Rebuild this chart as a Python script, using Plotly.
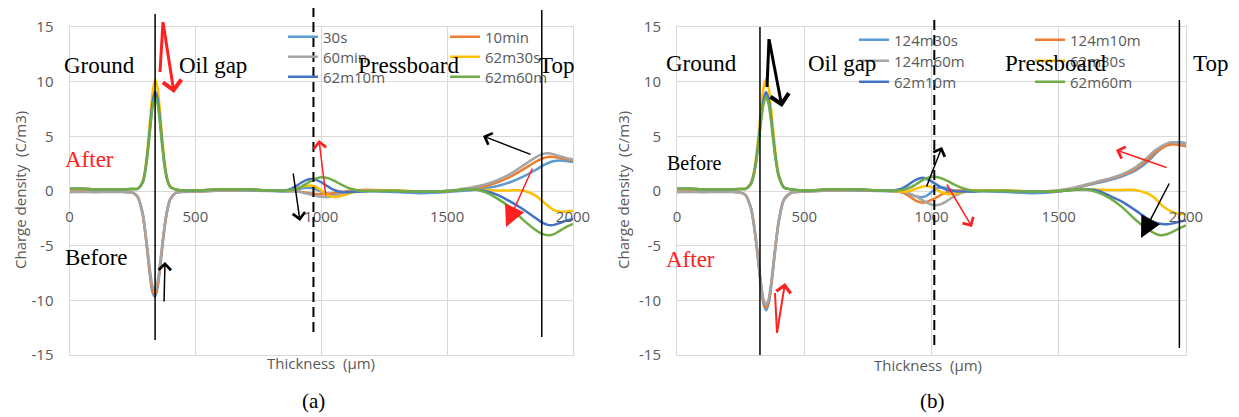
import plotly.graph_objects as go

# The page body has an 8px margin, so the figure is drawn 8px in from the window corner.
OFF = 8
WIN_W, WIN_H = 1239, 417
W, H = WIN_W - OFF, WIN_H - OFF

# ---------------- data ----------------
X = [0, 50, 100, 150, 200, 250, 270, 290, 300, 310, 320, 330, 340, 350, 360, 370, 380, 390, 400, 420,
     450, 500, 600, 700, 800, 850, 880, 900, 920, 940, 960, 980, 1000, 1020, 1040, 1060, 1080, 1100,
     1130, 1160, 1200, 1300, 1400, 1500, 1550, 1600, 1650, 1700, 1750, 1800, 1850, 1875, 1900, 1925,
     1950, 1975, 2000]

LEFT_NAMES = ["30s", "10min", "60min", "62m30s", "62m10m", "62m60m"]
RIGHT_NAMES = ["124m30s", "124m10m", "124m60m", "62m30s", "62m10m", "62m60m"]
COLORS = ["#5B9BD5", "#ED7D31", "#A5A5A5", "#FFC000", "#4472C4", "#70AD47"]

TICKS_X = [0, 500, 1000, 1500, 2000]
TICKS_Y = [-15, -10, -5, 0, 5, 10, 15]

# (a) panel
A_30s = [-0.1, -0.05, -0.1, -0.05, -0.05, -0.15, -0.5, -2.05, -3.65, -5.7, -7.8, -9.3, -9.65, -8.8, -7.0, -4.85, -2.95, -1.6, -0.78, -0.2,
         -0.05, -0.05, 0.05, 0.05, 0.0, -0.05, 0.0, 0.1, 0.22, 0.3, 0.28, 0.15, -0.05, -0.2, -0.28, -0.25, -0.18, -0.1,
         -0.05, -0.05, 0.0, -0.1, -0.2, -0.1, 0.0, 0.1, 0.25, 0.45, 0.8, 1.3, 1.9, 2.25, 2.55, 2.75,
         2.8, 2.75, 2.65]
A_10min = [-0.05, -0.05, -0.05, -0.05, -0.05, -0.15, -0.5, -2.0, -3.6, -5.6, -7.6, -9.1, -9.45, -8.6, -6.85, -4.75, -2.9, -1.57, -0.77, -0.2,
           -0.05, -0.05, 0.05, 0.1, 0.05, 0.0, 0.0, -0.02, -0.08, -0.15, -0.22, -0.28, -0.3, -0.28, -0.22, -0.14, -0.07, -0.02,
           0.05, 0.1, 0.1, 0.05, -0.05, 0.0, 0.1, 0.25, 0.45, 0.8, 1.3, 1.95, 2.65, 2.95, 3.12, 3.1,
           3.0, 2.9, 2.8]
A_60min = [-0.1, -0.1, -0.1, -0.1, -0.1, -0.15, -0.48, -1.95, -3.45, -5.35, -7.3, -8.7, -9.05, -8.25, -6.55, -4.55, -2.8, -1.5, -0.74, -0.2,
           -0.1, -0.05, 0.05, 0.1, 0.05, 0.0, -0.02, -0.05, -0.12, -0.22, -0.33, -0.45, -0.52, -0.55, -0.5, -0.38, -0.25, -0.13,
           -0.03, 0.02, 0.05, 0.0, -0.05, 0.0, 0.15, 0.35, 0.6, 1.0, 1.55, 2.3, 3.05, 3.35, 3.45, 3.35,
           3.15, 3.0, 2.9]
A_62m30s = [0.2, 0.2, 0.15, 0.15, 0.15, 0.18, 0.2, 0.85, 1.9, 3.9, 6.5, 9.0, 10.2, 9.4, 7.1, 4.4, 2.25, 1.0, 0.42, 0.15,
            0.05, 0.05, 0.15, 0.15, 0.05, 0.05, 0.1, 0.2, 0.35, 0.47, 0.5, 0.35, 0.05, -0.3, -0.5, -0.55, -0.45, -0.3,
            -0.12, -0.02, 0.05, 0.05, -0.05, 0.0, 0.1, 0.15, 0.1, 0.05, 0.05, 0.05, -0.4, -0.85, -1.35, -1.75,
            -1.9, -1.88, -1.8]
A_62m10m = [0.2, 0.2, 0.15, 0.15, 0.15, 0.18, 0.2, 0.76, 1.73, 3.5, 5.85, 8.1, 9.1, 8.4, 6.35, 3.95, 2.0, 0.9, 0.39, 0.15,
            0.05, 0.05, 0.15, 0.15, 0.05, 0.05, 0.2, 0.45, 0.75, 1.0, 1.1, 1.02, 0.8, 0.5, 0.22, 0.02, -0.1, -0.12,
            -0.08, -0.05, 0.0, 0.0, -0.05, 0.0, 0.1, 0.15, 0.0, -0.35, -0.95, -1.65, -2.45, -2.85, -3.1, -3.1,
            -2.9, -2.7, -2.55]
A_62m60m = [0.2, 0.2, 0.15, 0.15, 0.15, 0.18, 0.2, 0.73, 1.65, 3.3, 5.5, 7.65, 8.65, 7.95, 6.0, 3.7, 1.9, 0.85, 0.37, 0.15,
            0.05, 0.05, 0.15, 0.15, 0.05, 0.05, 0.1, 0.2, 0.38, 0.65, 0.93, 1.15, 1.25, 1.22, 1.07, 0.83, 0.58, 0.36,
            0.13, 0.0, 0.0, 0.0, -0.05, 0.0, 0.1, 0.15, -0.1, -0.7, -1.5, -2.6, -3.55, -3.9, -4.05, -3.95,
            -3.6, -3.25, -3.0]

# (b) panel
B_124m30s = [-0.1, -0.05, -0.1, -0.05, -0.05, -0.15, -0.4, -1.55, -2.8, -4.55, -6.65, -8.75, -10.3, -10.9, -10.3, -8.75, -6.65, -4.55, -2.8, -0.8,
             -0.15, -0.05, 0.05, 0.05, 0.0, -0.05, -0.1, -0.2, -0.35, -0.5, -0.58, -0.45, -0.1, 0.25, 0.35, 0.25, 0.1, 0.0,
             -0.05, -0.05, 0.0, -0.1, -0.2, -0.05, 0.15, 0.45, 0.72, 1.0, 1.35, 1.85, 2.7, 3.3, 3.85, 4.25,
             4.45, 4.45, 4.35]
B_124m10m = [-0.05, -0.05, -0.05, -0.05, -0.05, -0.15, -0.4, -1.53, -2.75, -4.45, -6.5, -8.6, -10.1, -10.7, -10.1, -8.6, -6.5, -4.45, -2.75, -0.8,
             -0.15, -0.05, 0.05, 0.1, 0.05, 0.0, -0.1, -0.3, -0.6, -0.9, -1.05, -1.0, -0.82, -0.58, -0.32, -0.12, 0.0, 0.05,
             0.05, 0.05, 0.05, 0.05, -0.05, 0.05, 0.22, 0.5, 0.8, 1.1, 1.45, 2.0, 2.9, 3.45, 3.85, 4.15,
             4.28, 4.2, 4.1]
B_124m60m = [-0.1, -0.1, -0.1, -0.1, -0.1, -0.15, -0.39, -1.5, -2.68, -4.35, -6.35, -8.4, -9.9, -10.45, -9.9, -8.4, -6.35, -4.35, -2.68, -0.78,
             -0.15, -0.05, 0.05, 0.1, 0.05, 0.0, -0.05, -0.12, -0.28, -0.5, -0.78, -1.05, -1.25, -1.3, -1.18, -0.92, -0.62, -0.35,
             -0.1, 0.0, 0.05, 0.0, -0.05, 0.05, 0.25, 0.55, 0.85, 1.15, 1.55, 2.15, 3.1, 3.65, 4.05, 4.35,
             4.45, 4.4, 4.3]
B_62m30s = [0.2, 0.2, 0.15, 0.15, 0.15, 0.18, 0.2, 0.72, 1.5, 2.95, 5.05, 7.5, 9.45, 10.25, 9.45, 7.5, 5.05, 2.95, 1.5, 0.35,
            0.15, 0.05, 0.15, 0.15, 0.05, 0.0, -0.05, -0.05, 0.05, 0.22, 0.38, 0.45, 0.35, 0.12, -0.12, -0.28, -0.3, -0.2,
            -0.08, 0.0, 0.05, 0.05, -0.05, 0.0, 0.1, 0.15, 0.12, 0.1, 0.1, 0.1, -0.25, -0.6, -1.2, -1.65,
            -1.95, -2.1, -2.1]
B_62m10m = [0.2, 0.2, 0.15, 0.15, 0.15, 0.18, 0.2, 0.65, 1.35, 2.6, 4.5, 6.6, 8.35, 9.05, 8.35, 6.6, 4.5, 2.6, 1.35, 0.32,
            0.15, 0.05, 0.15, 0.15, 0.05, 0.05, 0.18, 0.42, 0.75, 1.05, 1.2, 1.12, 0.88, 0.58, 0.3, 0.1, 0.0, -0.05,
            -0.05, -0.05, 0.0, 0.0, -0.05, 0.0, 0.1, 0.15, 0.05, -0.45, -1.0, -1.75, -2.55, -2.85, -3.0, -3.05,
            -2.95, -2.8, -2.7]
B_62m60m = [0.2, 0.2, 0.15, 0.15, 0.15, 0.18, 0.2, 0.62, 1.3, 2.5, 4.25, 6.3, 7.95, 8.6, 7.95, 6.3, 4.25, 2.5, 1.3, 0.3,
            0.15, 0.05, 0.15, 0.15, 0.05, 0.05, 0.08, 0.18, 0.35, 0.62, 0.92, 1.15, 1.3, 1.28, 1.15, 0.95, 0.7, 0.47,
            0.2, 0.05, 0.0, 0.0, -0.05, 0.0, 0.1, 0.15, -0.1, -0.65, -1.5, -2.6, -3.5, -3.85, -4.05, -3.95,
            -3.7, -3.4, -3.15]

LEFT_SERIES = [A_30s, A_10min, A_60min, A_62m30s, A_62m10m, A_62m60m]
RIGHT_SERIES = [B_124m30s, B_124m10m, B_124m60m, B_62m30s, B_62m10m, B_62m60m]


# window-pixel -> paper fraction helpers
def px(x):
    return (x - OFF) / W


def py(y):
    return 1 - (y - OFF) / H


GRID = "#D9D9D9"
TXT = "#595959"
SANS = "Open Sans"
SERIF = "Liberation Serif"

fig = go.Figure()

LEG_LEFT = [(283, 37), (445, 37), (283, 57), (445, 57), (283, 77), (445, 77)]
LEG_RIGHT = [(854, 40), (1030, 40), (854, 61), (1030, 61), (854, 82), (1030, 82)]

legends = {}
k = 0
for names, series, xa, ya, pos in [(LEFT_NAMES, LEFT_SERIES, "x", "y", LEG_LEFT),
                                   (RIGHT_NAMES, RIGHT_SERIES, "x2", "y2", LEG_RIGHT)]:
    for i, (nm, ys) in enumerate(zip(names, series)):
        k += 1
        lg = "legend" if k == 1 else f"legend{k}"
        fig.add_trace(go.Scatter(
            x=X, y=ys, name=nm, mode="lines", xaxis=xa, yaxis=ya, legend=lg,
            line=dict(color=COLORS[i], width=2.5, shape="spline", smoothing=0.8),
            showlegend=True, hoverinfo="skip"))
        lx, ly = pos[i]
        legends[lg] = dict(x=px(lx), y=py(ly), xanchor="left", yanchor="middle",
                           bgcolor="rgba(0,0,0,0)", borderwidth=0,
                           font=dict(family=SANS, size=15, color=TXT),
                           itemwidth=30, tracegroupgap=0)

# invisible carriers so that the x tick-label axes (sitting on y = 0) are drawn
for xa, ya in [("x3", "y"), ("x4", "y2")]:
    fig.add_trace(go.Scatter(x=[TICKS_X[0]], y=[0], xaxis=xa, yaxis=ya, mode="markers",
                             marker=dict(opacity=0, size=1), showlegend=False, hoverinfo="skip"))

YDOM = [py(355), py(27)]
ZERO_POS = (YDOM[0] + YDOM[1]) / 2
XDOM_L = [px(69.5), px(573)]
XDOM_R = [px(677), px(1186)]

common_x = dict(range=[0, 2000], tickvals=TICKS_X, showticklabels=False, showgrid=True,
                gridcolor=GRID, gridwidth=1, zeroline=False, showline=True, linecolor=GRID,
                linewidth=1, mirror=True, ticks="", fixedrange=True)
common_y = dict(range=[-15, 15], tickvals=TICKS_Y, ticktext=[str(v) for v in TICKS_Y],
                showgrid=True, gridcolor=GRID, gridwidth=1, zeroline=False, showline=True,
                linecolor=GRID, linewidth=1, mirror=True, ticks="",
                tickfont=dict(family=SANS, size=15, color=TXT), ticklabelstandoff=12,
                domain=YDOM, fixedrange=True)
label_x = dict(range=[0, 2000], tickvals=TICKS_X, ticktext=[str(v) for v in TICKS_X],
               showgrid=False, zeroline=False, showline=False, ticks="", anchor="free",
               position=ZERO_POS, side="bottom",
               tickfont=dict(family=SANS, size=15, color=TXT), ticklabelstandoff=15,
               fixedrange=True)

fig.update_layout(
    width=W, height=H, margin=dict(l=0, r=0, t=0, b=0, autoexpand=False),
    paper_bgcolor="white", plot_bgcolor="white",
    xaxis=dict(domain=XDOM_L, anchor="y", **common_x),
    yaxis=dict(anchor="x", **common_y),
    xaxis2=dict(domain=XDOM_R, anchor="y2", **common_x),
    yaxis2=dict(anchor="x2", **common_y),
    xaxis3=dict(overlaying="x", **label_x),
    xaxis4=dict(overlaying="x2", **label_x),
    **legends,
)

# boundary lines (data x, paper y)
shapes = []
for xref, xv, y0, y1, dash, w in [
    ("x", 340, 14, 340, "solid", 1.5),
    ("x", 969, 7, 335, "10px,5px", 2),
    ("x", 1876, 10, 337, "solid", 1.5),
    ("x2", 326, 27, 355, "solid", 1.5),
    ("x2", 1011, 20, 348, "10px,5px", 2),
    ("x2", 1974, 20, 348, "solid", 1.5),
]:
    shapes.append(dict(type="line", xref=xref, yref="paper", x0=xv, x1=xv, y0=py(y0), y1=py(y1),
                       line=dict(color="black", width=w, dash=dash)))

# plain segments of hand-drawn arrows
for (x0, y0), (x1, y1), col, w in [
    ((160, 72), (163, 22), "#FF2020", 3),
    ((767, 87), (769, 39), "black", 3),
    ((775, 293), (777, 333), "#FF2020", 2),
]:
    shapes.append(dict(type="line", xref="paper", yref="paper", x0=px(x0), y0=py(y0),
                       x1=px(x1), y1=py(y1), line=dict(color=col, width=w)))
fig.update_layout(shapes=shapes)

ann = []


def text(t, x, y, size=23, color="black", family=SERIF, angle=0):
    ann.append(dict(text=t, x=px(x), y=py(y), xref="paper", yref="paper", showarrow=False,
                    xanchor="center", yanchor="middle", textangle=angle,
                    font=dict(family=family, size=size, color=color)))


def arrow(tail, head, color, width, head_style, size):
    ann.append(dict(text="", x=px(head[0]), y=py(head[1]), xref="paper", yref="paper",
                    ax=tail[0] - head[0], ay=tail[1] - head[1], axref="pixel", ayref="pixel",
                    showarrow=True, arrowhead=head_style, arrowsize=size, arrowwidth=width,
                    arrowcolor=color, standoff=0, startstandoff=0))


# panel (a) labels
text("Ground", 99, 66)
text("Oil gap", 213, 66)
text("Pressboard", 408, 66)
text("Top", 556, 66)
text("After", 89, 160, color="#FF2020")
text("Before", 96, 257)
text("Charge density  (C/m3)", 20, 190, size=15, color=TXT, family=SANS, angle=-90)
text("Thickness  (μm)", 321, 363, size=15, color=TXT, family=SANS)
text("(a)", 313, 401, size=21)

# panel (b) labels
text("Ground", 701, 63)
text("Oil gap", 842, 63)
text("Pressboard", 1055, 63)
text("Top", 1210, 63)
text("Before", 694, 163, size=20)
text("After", 690, 259, color="#FF2020")
text("Charge density  (C/m3)", 623, 190, size=15, color=TXT, family=SANS, angle=-90)
text("Thickness  (μm)", 928, 365, size=15, color=TXT, family=SANS)
text("(b)", 932, 401, size=21)

# arrows panel (a)
arrow((163, 22), (174, 93), "#FF2020", 3, 4, 1.2)
arrow((326, 197), (319, 140), "#FF2020", 1.5, 4, 1.6)
arrow((293, 172), (300, 221), "black", 1.5, 4, 1.6)
arrow((532, 155), (483, 136), "black", 1.5, 4, 1.6)
arrow((533, 167), (506, 227), "#FF2020", 1.5, 2, 2.8)
arrow((164, 303), (165, 262), "black", 1.5, 4, 1.6)

# arrows panel (b)
arrow((769, 39), (782, 107), "black", 3, 4, 1.2)
arrow((926, 188), (942, 147), "black", 1.5, 4, 1.6)
arrow((946, 183), (972, 227), "#FF2020", 1.5, 4, 1.6)
arrow((1168, 168), (1116, 150), "#FF2020", 1.5, 4, 1.6)
arrow((1170, 182), (1141, 238), "black", 1.5, 2, 2.8)
arrow((777, 333), (785, 283), "#FF2020", 2, 4, 1.4)

fig.update_layout(annotations=ann)

fig.write_html("out.html")
